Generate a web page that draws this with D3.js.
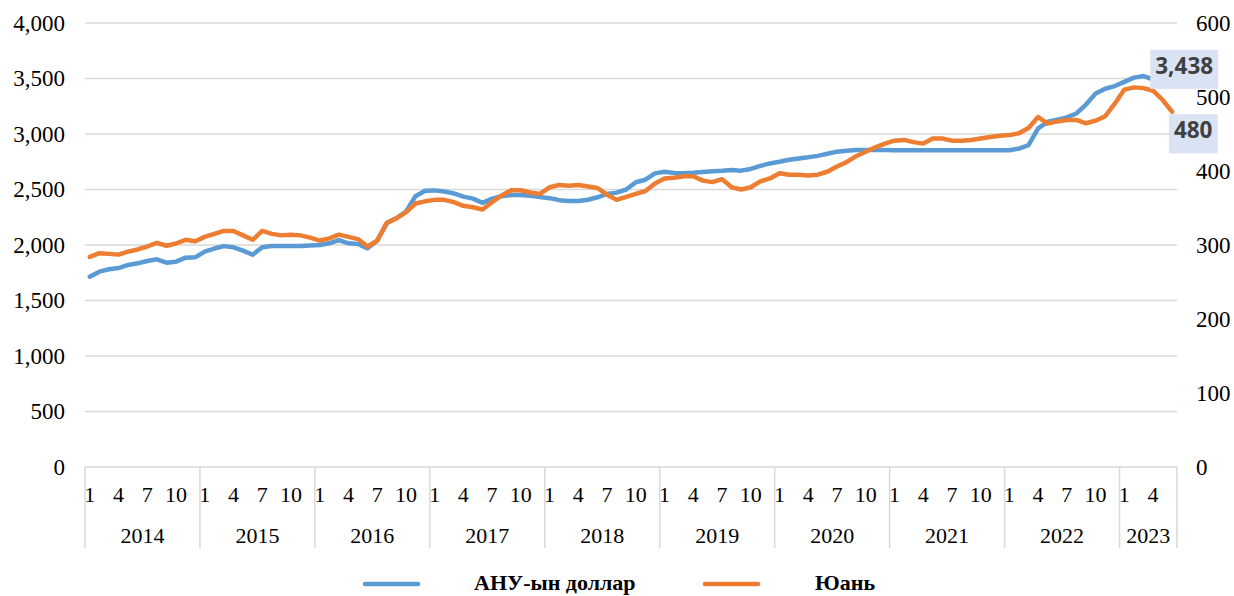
<!DOCTYPE html>
<html><head><meta charset="utf-8">
<script src="https://cdn.jsdelivr.net/npm/d3@7"></script>
<style>body{margin:0;background:#fff}svg{display:block}</style>
</head><body>
<svg id="c" width="1234" height="596"></svg>
<script>
const years = [2014,2015,2016,2017,2018,2019,2020,2021,2022,2023];
const monthsPerYear = [12,12,12,12,12,12,12,12,12,6];
const monthTicks = [1,4,7,10];
const leftTicks = [0,500,1000,1500,2000,2500,3000,3500,4000];
const rightTicks = [0,100,200,300,400,500,600];
const usd = [
 1714,1760,1781,1792,1820,1835,1856,1871,1841,1850,1886,1889,
 1940,1968,1990,1979,1949,1912,1979,1991,1991,1991,1991,1996,
 2000,2015,2045,2015,2009,1970,2039,2195,2240,2300,2440,2488,
 2492,2482,2465,2436,2418,2380,2418,2440,2450,2450,2443,2432,
 2422,2404,2396,2396,2408,2430,2460,2472,2500,2565,2588,2645,
 2660,2648,2646,2650,2658,2665,2668,2675,2670,2685,2712,2735,
 2750,2768,2780,2790,2803,2822,2841,2850,2855,2855,2855,2855,
 2853,2853,2853,2853,2853,2853,2853,2853,2853,2853,2853,2853,
 2853,2868,2900,3050,3110,3130,3150,3185,3265,3365,3408,3432,
 3470,3508,3522,3493,3457,3438];
const cny = [
 284,289,288,287,291,294,298,303,299,302,307,305,
 311,315,319,319,313,307,319,315,313,314,313,310,
 306,309,314,311,308,298,306,330,336,344,356,359,
 361,361,358,353,351,348,358,367,374,374,371,369,
 378,381,380,381,379,377,368,361,365,369,373,383,
 390,391,393,393,387,385,389,378,375,378,386,390,
 397,395,395,394,395,399,406,412,420,426,432,437,
 441,442,439,437,444,444,441,441,442,444,446,447.5,
 448.5,451,458,473,464,467,469,469,464.5,468,474,491,
 510,513,512,508.5,496,480];
const seriesNames = ["АНУ-ын доллар","Юань"];
const colors = ["#5b9bd5","#ed7d31"];

const periods = [];
years.forEach((y,yi)=>{for(let m=1;m<=monthsPerYear[yi];m++)periods.push({year:y,month:m});});

const svg = d3.select("#c");
const L=85,R=1177,T=23,B=467;
const x = d3.scaleBand().domain(d3.range(periods.length)).range([L,R]);
const yL = d3.scaleLinear().domain([0,4000]).range([B,T]);
const yR = d3.scaleLinear().domain([0,600]).range([B,T]);
const serif = "'Liberation Serif','Times New Roman',serif";
const fmt = d3.format(",");

svg.append("g").selectAll("line").data(leftTicks.filter(d=>d>0)).join("line")
 .attr("x1",L).attr("x2",R).attr("y1",d=>yL(d)).attr("y2",d=>yL(d))
 .attr("stroke","#d9d9d9").attr("stroke-width",1.5);

const gl = svg.append("g").attr("transform",`translate(${L},0)`)
 .call(d3.axisLeft(yL).tickValues(leftTicks).tickFormat(fmt).tickSize(0).tickPadding(20));
gl.select(".domain").remove();
gl.selectAll("text").attr("font-family",serif).attr("font-size",23).attr("fill","#000");

const gr = svg.append("g").attr("transform",`translate(${R},0)`)
 .call(d3.axisRight(yR).tickValues(rightTicks).tickSize(0).tickPadding(19));
gr.select(".domain").remove();
gr.selectAll("text").attr("font-family",serif).attr("font-size",23).attr("fill","#000");

const ca = svg.append("g");
ca.append("line").attr("x1",L).attr("x2",R).attr("y1",B).attr("y2",B).attr("stroke","#d9d9d9").attr("stroke-width",1.5);
const yearStarts = [];
periods.forEach((p,i)=>{if(p.month===1)yearStarts.push(i);});
const bounds = yearStarts.map(i=>x(i)).concat([R]);
ca.selectAll("line.sep").data(bounds).join("line").attr("class","sep")
 .attr("x1",d=>d).attr("x2",d=>d).attr("y1",B).attr("y2",548)
 .attr("stroke","#d9d9d9").attr("stroke-width",1.5);
ca.selectAll("text.m").data(periods.map((p,i)=>({...p,i})).filter(p=>monthTicks.includes(p.month))).join("text").attr("class","m")
 .attr("x",d=>x(d.i)+x.bandwidth()/2).attr("y",502).attr("text-anchor","middle")
 .attr("font-family",serif).attr("font-size",22).text(d=>d.month);
ca.selectAll("text.y").data(years).join("text").attr("class","y")
 .attr("x",(d,i)=>(bounds[i]+bounds[i+1])/2).attr("y",543).attr("text-anchor","middle")
 .attr("font-family",serif).attr("font-size",22).text(d=>d);

const cx = i=>x(i)+x.bandwidth()/2;
const lineL = d3.line().x((d,i)=>cx(i)).y(d=>yL(d));
const lineR = d3.line().x((d,i)=>cx(i)).y(d=>yR(d));
svg.append("path").datum(usd).attr("d",lineL).attr("fill","none").attr("stroke",colors[0])
 .attr("stroke-width",4.5).attr("stroke-linejoin","round").attr("stroke-linecap","round");
svg.append("path").datum(cny).attr("d",lineR).attr("fill","none").attr("stroke",colors[1])
 .attr("stroke-width",4.5).attr("stroke-linejoin","round").attr("stroke-linecap","round");

const last = periods.length-1;
function label(val,px,py){
  const g = svg.append("g");
  const t = g.append("text").attr("x",px).attr("y",py).attr("text-anchor","middle")
    .attr("dominant-baseline","central").attr("font-family","'Open Sans',sans-serif")
    .attr("font-weight","bold").attr("font-size",22.5).attr("fill","#404040").text(val);
  const bb = t.node().getBBox();
  g.insert("rect","text").attr("x",bb.x-5).attr("y",bb.y+0).attr("width",bb.width+10).attr("height",bb.height+8)
    .attr("fill","#dae3f3");
}
label(fmt(usd[last]), cx(last)+12, yL(usd[last])-20);
label(fmt(cny[last]), cx(last)+21, yR(cny[last])+18);

const lg = svg.append("g");
const items=[{x1:365,x2:418,tx:474},{x1:705,x2:758,tx:815}];
items.forEach((it,i)=>{
  lg.append("line").attr("x1",it.x1).attr("x2",it.x2).attr("y1",584).attr("y2",584)
    .attr("stroke",colors[i]).attr("stroke-width",4.5).attr("stroke-linecap","round");
  lg.append("text").attr("x",it.tx).attr("y",590).attr("font-family",serif).attr("font-weight","bold")
    .attr("font-size",22).text(seriesNames[i]);
});
</script>
</body></html>
